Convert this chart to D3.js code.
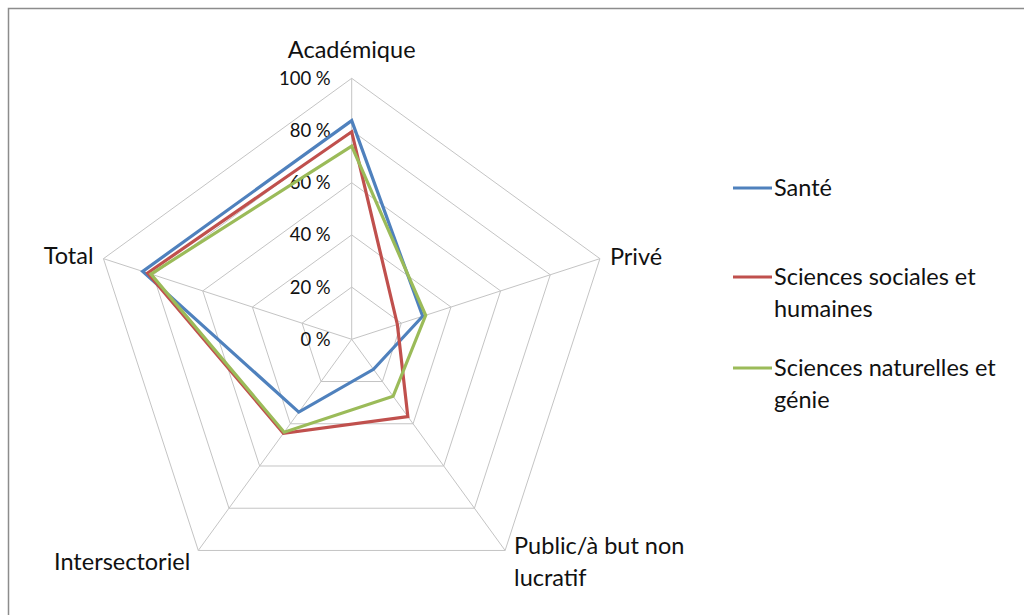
<!DOCTYPE html>
<html lang="fr">
<head>
<meta charset="utf-8">
<title>Radar</title>
<script src="https://d3js.org/d3.v7.min.js"></script>
<style>
  body { margin: 0; background: #fff; }
  svg text { font-family: Lato, "Open Sans", sans-serif; fill: #111; }
  .grid { fill: none; stroke: #c4c4c4; stroke-width: 1px; }
  .serie { fill: none; stroke-width: 3.2px; stroke-linejoin: miter; }
</style>
</head>
<body>
<svg width="1024" height="615"></svg>
<script>
// axes du radar
var axes = ["Académique", "Privé", "Public/à but non lucratif", "Intersectoriel", "Total"];
var ticks = [0, 20, 40, 60, 80, 100];

// valeurs en %
var sante = [83.8, 28.6, 14.2, 34.5, 84.2];
var sciencesSociales = [79.5, 18.4, 36.6, 44.5, 82.2];
var sciencesNaturelles = [74, 29.8, 27, 44, 80.9];

var seriesNames = ["Santé", "Sciences sociales et humaines", "Sciences naturelles et génie"];
var colors = ["#4f81bd", "#c0504d", "#9bbb59"];
var data = [sante, sciencesSociales, sciencesNaturelles];

const svg = d3.select("svg");
const cx = 351.7, cy = 339.3, R = 261;

// cadre
svg.append("path")
  .attr("d", "M8.5,615 L8.5,8.5 L1024,8.5")
  .attr("fill", "none").attr("stroke", "#8c8c8c").attr("stroke-width", 1.5);

var r = d3.scaleLinear().domain([0, 100]).range([0, R]);
var angle = function(i) { return i * 2 * Math.PI / axes.length; };
var px = function(i, v) { return cx + r(v) * Math.sin(angle(i)); };
var py = function(i, v) { return cy - r(v) * Math.cos(angle(i)); };

var g = svg.append("g");

// grille
ticks.slice(1).forEach(function(t) {
  g.append("polygon")
    .attr("class", "grid")
    .attr("points", axes.map((a, i) => px(i, t) + "," + py(i, t)).join(" "));
});
axes.forEach(function(a, i) {
  g.append("line").attr("class", "grid")
    .attr("x1", cx).attr("y1", cy)
    .attr("x2", px(i, 100)).attr("y2", py(i, 100));
});

// graduations
g.selectAll(".tick").data(ticks).enter().append("text")
  .attr("x", cx - 21)
  .attr("y", d => cy - r(d))
  .attr("dy", "0.35em")
  .attr("text-anchor", "end")
  .style("font-size", "18.5px")
  .text(d => d + " %");

// series
var line = d3.line().curve(d3.curveLinearClosed);
data.forEach(function(s, k) {
  g.append("path")
    .attr("class", "serie")
    .attr("stroke", colors[k])
    .attr("d", line(s.map((v, i) => [px(i, v), py(i, v)])));
});

// libelles des axes
var labelPos = [
  {dx: 0, dy: -29, anchor: "middle", lines: ["Académique"]},
  {dx: 10, dy: -2, anchor: "start", lines: ["Privé"]},
  {dx: 9, dy: -5, anchor: "start", lines: ["Public/à but non", "lucratif"]},
  {dx: -8, dy: 11, anchor: "end", lines: ["Intersectoriel"]},
  {dx: -10, dy: -3, anchor: "end", lines: ["Total"]}
];
axes.forEach(function(a, i) {
  var p = labelPos[i];
  var t = g.append("text")
    .attr("x", px(i, 100) + p.dx)
    .attr("y", py(i, 100) + p.dy)
    .attr("text-anchor", p.anchor)
    .style("font-size", "23.5px");
  p.lines.forEach(function(l, j) {
    t.append("tspan").attr("x", px(i, 100) + p.dx)
      .attr("dy", j === 0 ? "0.35em" : "32px").text(l);
  });
});

// legende
var legendLines = [["Santé"], ["Sciences sociales et", "humaines"], ["Sciences naturelles et", "génie"]];
var legendY = [188, 277, 368];
var leg = svg.append("g");
legendLines.forEach(function(ls, k) {
  leg.append("line")
    .attr("x1", 733).attr("x2", 772)
    .attr("y1", legendY[k]).attr("y2", legendY[k])
    .attr("stroke", colors[k]).attr("stroke-width", 3);
  var t = leg.append("text").attr("x", 774).attr("y", legendY[k])
    .style("font-size", "23.5px");
  ls.forEach(function(l, j) {
    t.append("tspan").attr("x", 774).attr("dy", j === 0 ? "0.35em" : "32px").text(l);
  });
});
</script>
</body>
</html>
